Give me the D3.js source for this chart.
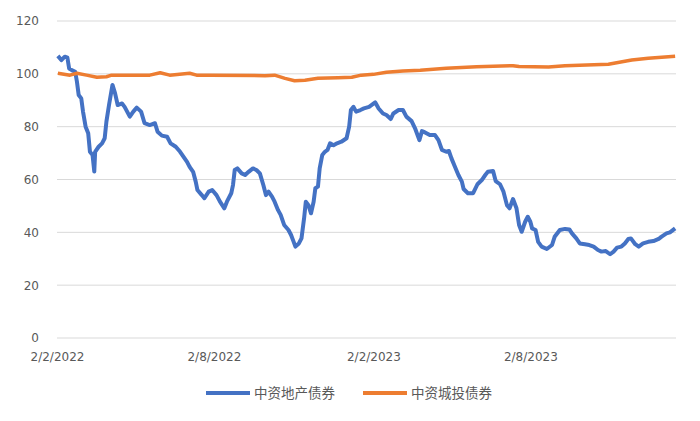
<!DOCTYPE html>
<html>
<head>
<meta charset="utf-8">
<script src="https://d3js.org/d3.v7.min.js"></script>
<style>
  body { margin: 0; background: #fff; }
  text { font-family: "DejaVu Sans", sans-serif; fill: #595959; }
  .legend text { font-family: "Noto Sans CJK SC", sans-serif; }
</style>
</head>
<body>
<div id="chart"></div>
<script>
// series names
var seriesNames = ["中资地产债券", "中资城投债券"];

// 中资地产债券 (blue)
var propertyDates = [
  "2022-02-03","2022-02-07","2022-02-11","2022-02-14","2022-02-16","2022-02-19","2022-02-23","2022-02-25",
  "2022-02-27","2022-03-02","2022-03-04","2022-03-07","2022-03-10","2022-03-12","2022-03-15","2022-03-17",
  "2022-03-18","2022-03-22","2022-03-26","2022-03-29","2022-03-31","2022-04-03","2022-04-07","2022-04-10",
  "2022-04-13","2022-04-18","2022-04-21","2022-04-27","2022-05-01","2022-05-05","2022-05-10","2022-05-14",
  "2022-05-20","2022-05-26","2022-05-29","2022-06-03","2022-06-09","2022-06-13","2022-06-19","2022-06-24",
  "2022-06-28","2022-07-02","2022-07-05","2022-07-09","2022-07-12","2022-07-14","2022-07-19","2022-07-22",
  "2022-07-27","2022-07-31","2022-08-05","2022-08-09","2022-08-14","2022-08-17","2022-08-22","2022-08-24",
  "2022-08-26","2022-08-29","2022-09-03","2022-09-07","2022-09-11","2022-09-16","2022-09-20","2022-09-24",
  "2022-09-28","2022-10-01","2022-10-04","2022-10-08","2022-10-11","2022-10-15","2022-10-18","2022-10-22",
  "2022-10-27","2022-10-30","2022-11-02","2022-11-04","2022-11-08","2022-11-11","2022-11-14","2022-11-16",
  "2022-11-19","2022-11-22","2022-11-25","2022-11-27","2022-11-30","2022-12-02","2022-12-05","2022-12-08",
  "2022-12-11","2022-12-14","2022-12-18","2022-12-22","2022-12-27","2023-01-02","2023-01-05","2023-01-07",
  "2023-01-10","2023-01-13","2023-01-18","2023-01-22","2023-01-28","2023-02-04","2023-02-08","2023-02-13",
  "2023-02-17","2023-02-22","2023-02-25","2023-03-03","2023-03-08","2023-03-12","2023-03-18","2023-03-22",
  "2023-03-27","2023-03-30","2023-04-02","2023-04-08","2023-04-14","2023-04-18","2023-04-22","2023-04-27",
  "2023-04-30","2023-05-03","2023-05-07","2023-05-11","2023-05-15","2023-05-17","2023-05-22","2023-05-28",
  "2023-06-02","2023-06-07","2023-06-11","2023-06-14","2023-06-20","2023-06-23","2023-06-28","2023-07-02",
  "2023-07-06","2023-07-09","2023-07-13","2023-07-17","2023-07-20","2023-07-23","2023-07-27","2023-07-30",
  "2023-08-02","2023-08-04","2023-08-08","2023-08-11","2023-08-15","2023-08-21","2023-08-27","2023-08-30",
  "2023-09-05","2023-09-11","2023-09-16","2023-09-19","2023-09-24","2023-09-28","2023-10-04","2023-10-09",
  "2023-10-14","2023-10-19","2023-10-23","2023-10-28","2023-11-02","2023-11-06","2023-11-10","2023-11-15",
  "2023-11-19","2023-11-23","2023-11-26","2023-12-01","2023-12-05","2023-12-10","2023-12-16","2023-12-22",
  "2023-12-28","2023-12-31","2024-01-06","2024-01-10","2024-01-16"
];
var propertyValues = [
  106.8,105.2,106.5,106.1,102.0,101.4,100.8,97.0,
  92.0,90.7,85.7,80.0,77.5,70.5,69.3,63.0,
  70.5,72.4,73.7,75.6,81.9,88.2,95.8,92.6,
  88.2,88.8,87.5,83.8,85.7,87.2,85.7,81.3,
  80.6,81.3,78.1,76.6,76.2,73.7,72.4,70.5,
  68.6,66.7,64.8,62.9,59.2,56.0,54.1,52.9,
  55.4,56.0,54.1,51.6,49.1,51.6,54.8,57.9,
  63.6,64.2,62.3,61.7,62.9,64.2,63.6,62.3,
  57.9,54.1,55.4,53.5,51.6,48.4,46.6,42.8,
  40.9,39.0,36.4,34.6,35.8,37.7,45.3,51.6,
  50.3,47.2,51.6,56.7,57.3,64.2,69.3,70.5,
  71.2,73.7,73.0,73.7,74.3,75.6,80.0,86.3,
  87.5,85.7,86.3,86.9,87.5,89.2,86.9,85.0,
  84.4,82.9,85.0,86.3,86.3,83.8,82.1,79.4,
  74.9,78.3,77.9,76.8,76.8,74.9,71.2,70.5,
  70.8,68.0,64.8,61.7,59.2,56.4,54.8,54.8,
  58.2,59.8,61.7,62.9,63.2,59.4,58.2,55.4,
  50.3,49.1,52.6,49.1,42.8,40.2,44.0,45.9,
  44.0,41.5,40.9,36.4,34.6,33.7,35.2,38.3,
  40.9,41.3,41.1,39.6,37.7,35.8,35.5,35.2,
  34.6,33.3,32.7,32.9,31.7,32.7,34.2,34.6,
  35.8,37.5,37.7,35.5,34.6,35.8,36.4,36.7,
  37.5,38.3,39.6,40.0,41.5
];

// 中资城投债券 (orange)
var lgfvDates = [
  "2022-02-03","2022-02-17","2022-02-25","2022-03-08","2022-03-20","2022-03-31","2022-04-06","2022-05-20",
  "2022-06-01","2022-06-12","2022-07-05","2022-07-13","2022-07-28","2022-09-30","2022-10-11","2022-10-23",
  "2022-11-03","2022-11-15","2022-11-30","2022-12-23","2023-01-08","2023-01-19","2023-02-02","2023-02-17",
  "2023-03-08","2023-03-28","2023-04-27","2023-06-01","2023-07-13","2023-07-20","2023-08-23","2023-09-11",
  "2023-10-31","2023-11-27","2023-12-16","2024-01-16"
];
var lgfvValues = [
  100.2,99.5,100.2,99.5,98.7,98.9,99.5,99.5,
  100.4,99.5,100.2,99.5,99.5,99.3,99.5,98.3,
  97.4,97.6,98.3,98.5,98.7,99.5,99.8,100.6,
  101.1,101.4,102.1,102.7,103.1,102.8,102.6,103.1,
  103.6,105.2,105.9,106.7
];

// axes
var xStart = "2022-02-02", xEnd = "2024-01-17";
var xTicks = ["2022-02-02", "2022-08-02", "2023-02-02", "2023-08-02"];
var yTicks = [0, 20, 40, 60, 80, 100, 120];

var width = 700, height = 421;
var margin = {top: 21, right: 24, bottom: 83, left: 57};
var innerW = width - margin.left - margin.right;
var innerH = height - margin.top - margin.bottom;
var parse = d3.timeParse("%Y-%m-%d");

var svg = d3.select("#chart").append("svg")
    .attr("width", width)
    .attr("height", height);
var g = svg.append("g")
    .attr("transform", `translate(${margin.left},${margin.top})`);

var x = d3.scaleTime().domain([parse(xStart), parse(xEnd)]).range([0, innerW]);
var y = d3.scaleLinear().domain([0, 120]).range([innerH, 0]);

// grid lines
g.selectAll(".grid")
    .data(yTicks)
    .enter()
    .append("line")
    .attr("x1", 0)
    .attr("x2", innerW)
    .attr("y1", function(d){ return y(d); })
    .attr("y2", function(d){ return y(d); })
    .style("stroke", "#d9d9d9")
    .style("stroke-width", "1px");

// y axis
var yaxis = d3.axisLeft(y).tickValues(yTicks).tickSize(0).tickPadding(18);
g.append("g")
    .call(yaxis)
    .call(function(s){ s.select(".domain").remove(); })
    .selectAll("text")
    .style("font-size", "12px")
    .style("fill", "#595959");

// x axis
var fmt = d3.timeFormat("%-d/%-m/%Y");
var xaxis = d3.axisBottom(x).tickValues(xTicks.map(parse)).tickFormat(fmt).tickSize(0).tickPadding(14);
g.append("g")
    .attr("transform", "translate(0," + innerH + ")")
    .call(xaxis)
    .call(function(s){ s.select(".domain").remove(); })
    .selectAll("text")
    .style("font-size", "12px")
    .style("fill", "#595959");

// lines
var line = d3.line()
    .x(function(d){ return x(d[0]); })
    .y(function(d){ return y(d[1]); });

var propertyData = propertyDates.map(function(d, i){ return [parse(d), propertyValues[i]]; });
var lgfvData = lgfvDates.map(function(d, i){ return [parse(d), lgfvValues[i]]; });
var colors = ["#4472c4", "#ed7d31"];

g.append("path")
    .datum(propertyData)
    .attr("d", line)
    .attr("fill", "none")
    .attr("stroke", colors[0])
    .attr("stroke-width", 4)
    .attr("stroke-linejoin", "round");

g.append("path")
    .datum(lgfvData)
    .attr("d", line)
    .attr("fill", "none")
    .attr("stroke", colors[1])
    .attr("stroke-width", 3.5)
    .attr("stroke-linejoin", "round");

// legend
var legendX = [206, 363];
var legend = svg.append("g").attr("class", "legend");
seriesNames.forEach(function(name, i){
    legend.append("line")
        .attr("x1", legendX[i])
        .attr("x2", legendX[i] + 44)
        .attr("y1", 393)
        .attr("y2", 393)
        .attr("stroke", colors[i])
        .attr("stroke-width", 4);
    legend.append("text")
        .text(name)
        .attr("x", legendX[i] + 48)
        .attr("y", 393)
        .attr("dy", "0.35em")
        .style("font-size", "13.5px")
        .style("fill", "#595959");
});
</script>
</body>
</html>
